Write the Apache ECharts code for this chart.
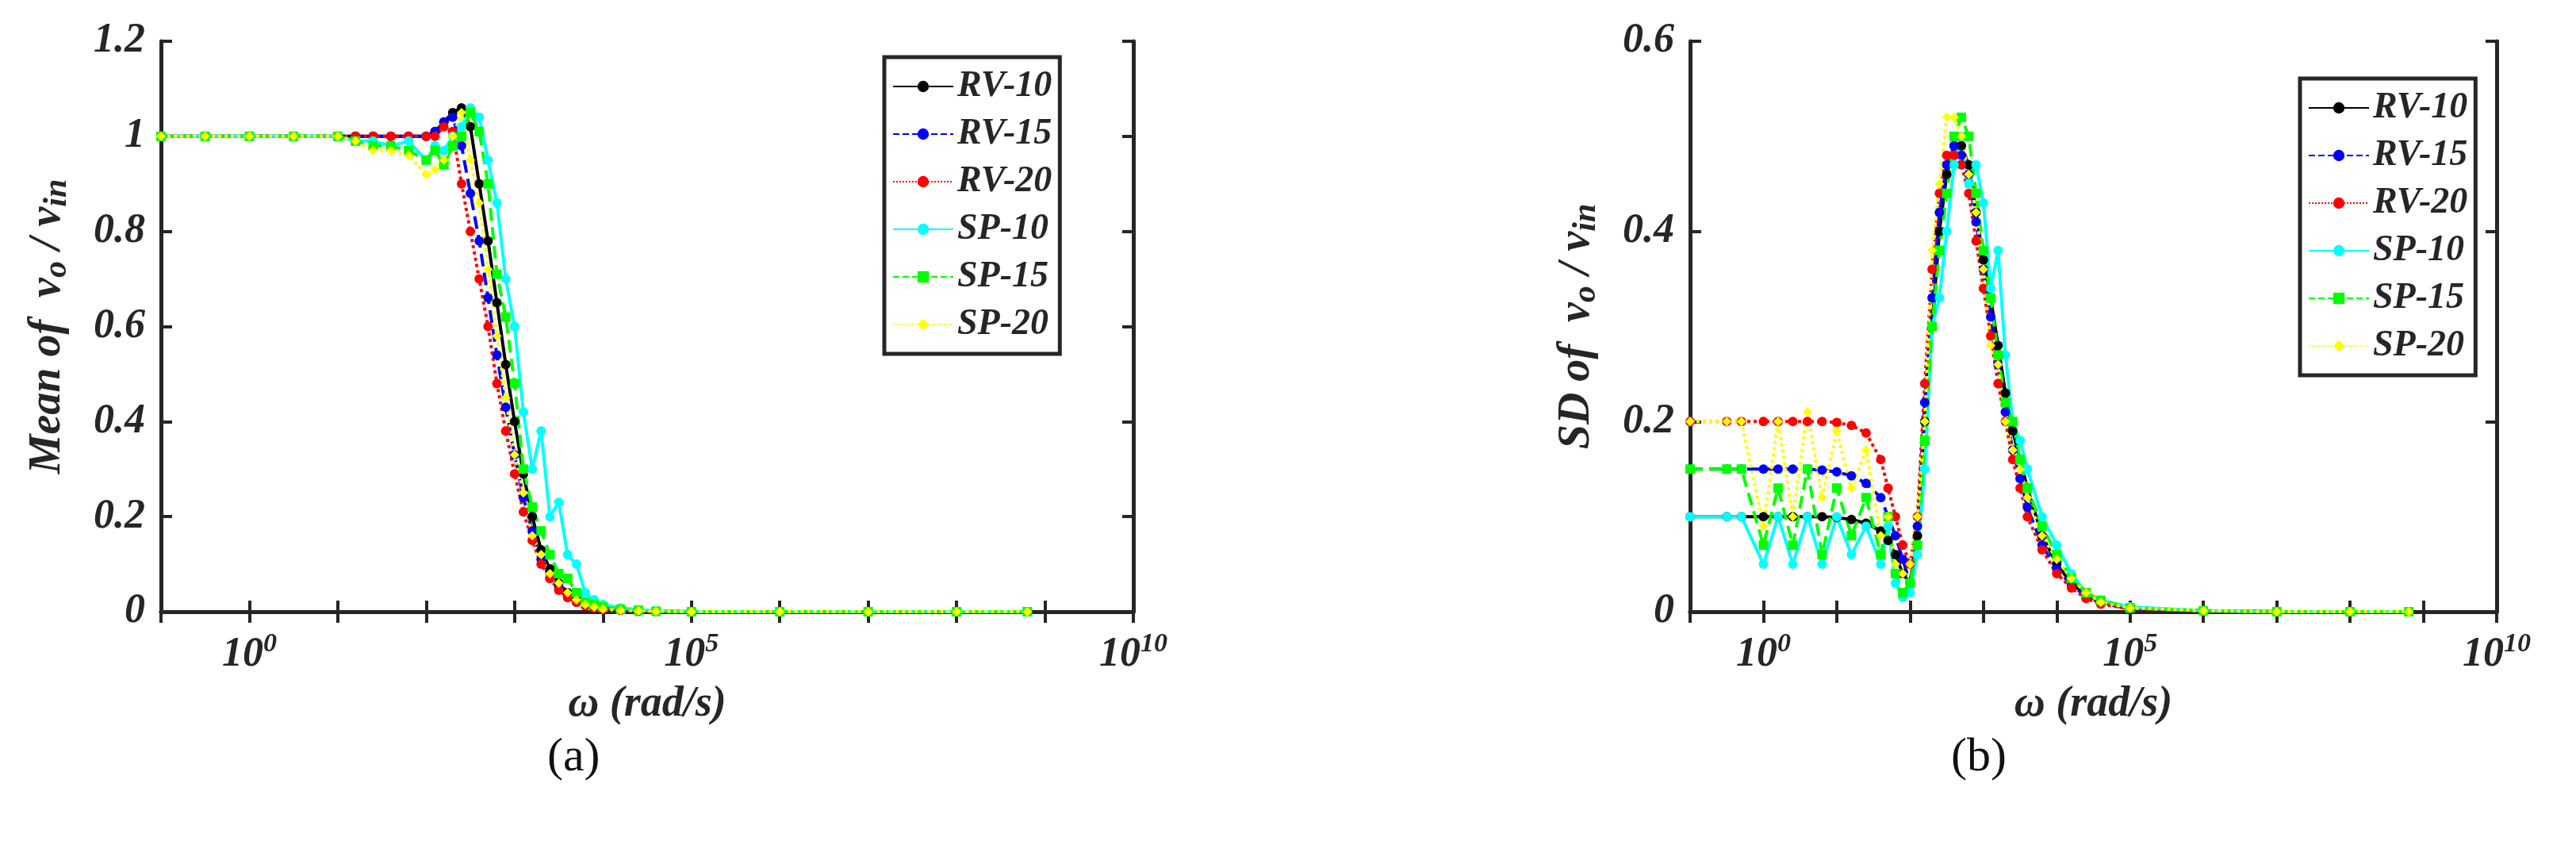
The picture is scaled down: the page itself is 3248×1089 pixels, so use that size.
<!DOCTYPE html>
<html>
<head>
<meta charset="utf-8">
<script src="https://cdn.jsdelivr.net/npm/echarts@6/dist/echarts.min.js"></script>
<style>html,body{margin:0;background:#fff}#c{width:3248px;height:1089px}</style>
</head>
<body>
<div id="c"></div>
<script>
// log10(omega) grids
const meanExp = [-1,-0.5,0,0.5,1,1.2,1.4,1.6,1.8,2.0,2.1,2.2,2.3,2.4,2.5,2.6,2.7,2.8,2.9,3.0,3.1,3.2,3.3,3.4,3.5,3.6,3.7,3.8,3.9,4.0,4.2,4.4,4.6,5,6,7,8,8.8];
const sdExp = [-1,-0.5,-0.3,0,0.2,0.4,0.6,0.8,1.0,1.2,1.4,1.6,1.7,1.8,1.9,2.0,2.1,2.2,2.3,2.4,2.5,2.6,2.7,2.8,2.9,3.0,3.1,3.2,3.3,3.4,3.5,3.6,3.8,4.0,4.2,4.4,4.6,5,6,7,8,8.8];

const names = ['RV-10','RV-15','RV-20','SP-10','SP-15','SP-20'];

const meanRV10 = [1,1,1,1,1,1,1,1,1,1,1.01,1.03,1.05,1.06,1.02,0.9,0.78,0.65,0.52,0.4,0.29,0.2,0.13,0.09,0.06,0.04,0.03,0.02,0.012,0.008,0.004,0.002,0.001,0,0,0,0,0];
const meanRV15 = [1,1,1,1,1,1,1,1,1,1,1.01,1.03,1.04,0.98,0.88,0.78,0.66,0.54,0.43,0.33,0.24,0.17,0.11,0.07,0.05,0.03,0.02,0.015,0.01,0.006,0.003,0.002,0.001,0,0,0,0,0];
const meanRV20 = [1,1,1,1,1,1,1,1,1,1,1,1.02,1.01,0.9,0.8,0.7,0.6,0.48,0.38,0.29,0.21,0.15,0.1,0.07,0.045,0.03,0.02,0.012,0.008,0.005,0.003,0.001,0.001,0,0,0,0,0];
const meanSP10 = [1,1,1,1,1,0.99,0.99,0.98,0.99,0.95,0.98,0.97,1.0,1.02,1.06,1.04,0.95,0.86,0.7,0.6,0.42,0.3,0.38,0.2,0.23,0.12,0.1,0.04,0.025,0.015,0.008,0.004,0.002,0,0,0,0,0];
const meanSP15 = [1,1,1,1,1,0.99,0.98,0.98,0.97,0.95,0.97,0.94,0.98,1.0,1.05,1.01,0.9,0.71,0.62,0.48,0.3,0.22,0.17,0.12,0.08,0.07,0.04,0.02,0.015,0.01,0.005,0.003,0.001,0,0,0,0,0];
const meanSP20 = [1,1,1,1,1,0.99,0.97,0.97,0.96,0.92,0.93,0.95,1.0,1.05,0.95,0.86,0.72,0.58,0.45,0.33,0.25,0.16,0.12,0.08,0.06,0.04,0.025,0.015,0.01,0.006,0.003,0.002,0.001,0,0,0,0,0];

const sdRV10 = [0.1,0.1,0.1,0.1,0.1,0.1,0.1,0.1,0.099,0.097,0.093,0.085,0.075,0.06,0.04,0.03,0.08,0.2,0.3,0.4,0.46,0.49,0.49,0.47,0.42,0.37,0.33,0.28,0.23,0.19,0.16,0.13,0.08,0.05,0.03,0.018,0.01,0.004,0.001,0,0,0];
const sdRV15 = [0.15,0.15,0.15,0.15,0.15,0.15,0.15,0.149,0.147,0.143,0.135,0.12,0.1,0.08,0.055,0.03,0.09,0.22,0.33,0.42,0.47,0.49,0.48,0.46,0.41,0.36,0.31,0.26,0.21,0.17,0.14,0.11,0.07,0.045,0.028,0.016,0.009,0.003,0.001,0,0,0];
const sdRV20 = [0.2,0.2,0.2,0.2,0.2,0.2,0.2,0.2,0.199,0.196,0.188,0.16,0.13,0.1,0.07,0.05,0.1,0.24,0.36,0.44,0.48,0.48,0.47,0.44,0.39,0.34,0.29,0.24,0.2,0.16,0.13,0.1,0.065,0.04,0.025,0.014,0.008,0.003,0.001,0,0,0];
const sdSP10 = [0.1,0.1,0.1,0.05,0.1,0.05,0.1,0.05,0.1,0.06,0.09,0.05,0.09,0.03,0.015,0.02,0.06,0.15,0.3,0.33,0.4,0.47,0.5,0.45,0.47,0.43,0.34,0.38,0.27,0.2,0.18,0.15,0.1,0.07,0.04,0.02,0.012,0.005,0.001,0,0,0];
const sdSP15 = [0.15,0.15,0.15,0.07,0.13,0.07,0.15,0.06,0.13,0.08,0.12,0.06,0.1,0.04,0.02,0.03,0.07,0.18,0.3,0.38,0.44,0.5,0.52,0.5,0.44,0.38,0.33,0.27,0.22,0.2,0.16,0.13,0.09,0.06,0.035,0.02,0.012,0.004,0.001,0,0,0];
const sdSP20 = [0.2,0.2,0.2,0.09,0.2,0.1,0.21,0.12,0.19,0.13,0.17,0.08,0.1,0.05,0.04,0.05,0.1,0.2,0.38,0.45,0.52,0.52,0.5,0.46,0.42,0.36,0.28,0.26,0.2,0.17,0.15,0.12,0.08,0.055,0.035,0.02,0.01,0.004,0.001,0,0,0];

const xTickLabels = {0: '0', 5: '5', 10: '10'};

const colors = ['#000000','#0000ff','#ff0000','#00ffff','#00ff00','#ffff00'];
const lineTypes = ['solid','dashed','dotted','solid','dashed','dotted'];
const symbols = ['circle','circle','circle','circle','rect','diamond'];

const font = {fontFamily: 'Liberation Serif', fontStyle: 'italic', fontWeight: 'bold', color: '#262626'};

function pairs(exp, ys) {
  return exp.map((e, i) => [Math.pow(10, e), ys[i]]);
}

function xAxes(gi) {
  const base = {
    gridIndex: gi, type: 'log', logBase: 10, min: 0.1, max: 1e10, interval: 1,
    splitLine: {show: false}, minorTick: {show: false},
    axisLine: {show: true, lineStyle: {color: '#262626', width: 5}},
    axisTick: {show: true, inside: true, length: 14, lineStyle: {color: '#262626', width: 4}}
  };
  return [
    Object.assign({}, base, {
      position: 'bottom',
      name: 'ω (rad/s)', nameLocation: 'middle', nameGap: 90,
      nameTextStyle: Object.assign({fontSize: 54}, font),
      axisLabel: Object.assign({
        fontSize: 52, margin: 24,
        formatter: v => {
          const e = Math.round(Math.log10(v));
          return xTickLabels[e] !== undefined ? '10{s|' + xTickLabels[e] + '}' : '';
        },
        rich: {s: Object.assign({fontSize: 34, verticalAlign: 'top', padding: [0, 0, 28, 0]}, font)}
      }, font)
    }),
    Object.assign({}, base, {position: 'top', axisLabel: {show: false}})
  ];
}

function yAxes(gi, max, nameMain) {
  const base = {
    gridIndex: gi, type: 'value', min: 0, max: max, interval: 0.2,
    splitLine: {show: false},
    axisLine: {show: true, lineStyle: {color: '#262626', width: 5}},
    axisTick: {show: true, inside: true, length: 14, lineStyle: {color: '#262626', width: 4}}
  };
  return [
    Object.assign({}, base, {
      position: 'left',
      name: nameMain + 'v{sub|o} / v{sub|in}', nameLocation: 'middle', nameGap: 110, nameRotate: 90,
      nameTextStyle: Object.assign({fontSize: 56, rich: {
        sub: Object.assign({fontSize: 42, verticalAlign: 'bottom', padding: [22, 0, 0, 0]}, font)
      }}, font),
      axisLabel: Object.assign({fontSize: 52, margin: 20, formatter: v => String(+v.toFixed(1))}, font)
    }),
    Object.assign({}, base, {position: 'right', axisLabel: {show: false}})
  ];
}

function makeSeries(gi, exp, list) {
  return list.map((ys, i) => ({
    name: names[i], type: 'line', xAxisIndex: gi * 2, yAxisIndex: gi * 2,
    data: pairs(exp, ys), showSymbol: true, symbol: symbols[i], symbolSize: 12,
    itemStyle: {color: colors[i]},
    lineStyle: {color: colors[i], width: 4, type: lineTypes[i]},
    animation: false
  }));
}

const chart = echarts.init(document.getElementById('c'));
const legendBase = {
  orient: 'vertical', itemWidth: 76, itemHeight: 18, itemGap: 14,
  borderColor: '#262626', borderWidth: 5, padding: [14, 10, 14, 10], backgroundColor: '#fff',
  textStyle: Object.assign({fontSize: 46}, font), data: names
};
chart.setOption({
  backgroundColor: '#fff',
  grid: [
    {left: 203, right: 3248 - 1429, top: 52, bottom: 318},
    {left: 2131, right: 3248 - 3148, top: 52, bottom: 318}
  ],
  xAxis: xAxes(0).concat(xAxes(1)),
  yAxis: yAxes(0, 1.2, 'Mean of  ').concat(yAxes(1, 0.6, 'SD of  ')),
  legend: [
    Object.assign({}, legendBase, {left: 1115, top: 72}),
    Object.assign({}, legendBase, {left: 2900, top: 99})
  ],
  graphic: [
    {type: 'text', left: 690, top: 925, style: {text: '(a)', font: '60px "Liberation Serif"', fill: '#111'}},
    {type: 'text', left: 2460, top: 925, style: {text: '(b)', font: '60px "Liberation Serif"', fill: '#111'}}
  ],
  series: makeSeries(0, meanExp, [meanRV10, meanRV15, meanRV20, meanSP10, meanSP15, meanSP20])
    .concat(makeSeries(1, sdExp, [sdRV10, sdRV15, sdRV20, sdSP10, sdSP15, sdSP20]))
});
</script>
</body>
</html>
